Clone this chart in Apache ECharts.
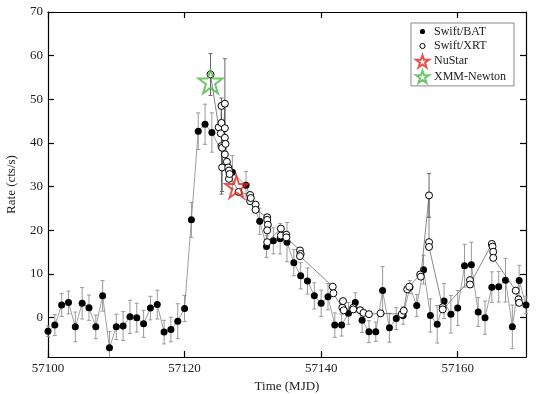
<!DOCTYPE html>
<html>
<head>
<meta charset="utf-8">
<script src="https://cdn.jsdelivr.net/npm/echarts@6/dist/echarts.min.js"></script>
<style>
  html, body { margin: 0; padding: 0; background: #fff; }
  #chartLC { width: 545px; height: 394px; }
</style>
</head>
<body>
<div id="chartLC"></div>
<script>
  // Swift/BAT daily rates
  var batTime = [57100, 57101, 57102, 57103, 57104, 57105, 57106, 57107, 57108, 57109,
    57110, 57111, 57112, 57113, 57114, 57115, 57116, 57117, 57118, 57119,
    57120, 57121, 57122, 57123, 57124, 57127, 57129, 57131, 57132, 57133,
    57134, 57135, 57136, 57137, 57138, 57139, 57140, 57141, 57142, 57143,
    57144, 57145, 57146, 57147, 57148, 57149, 57150, 57151, 57152, 57153,
    57154, 57155, 57156, 57157, 57158, 57159, 57160, 57161, 57162, 57163,
    57164, 57165, 57166, 57167, 57168, 57169, 57170];
  var batRate = [-3.1, -1.7, 2.9, 3.5, -2.1, 3.3, 2.3, -2.1, 5.0, -6.9,
    -2.1, -1.9, 0.2, 0.0, -1.4, 2.2, 3.0, -3.3, -2.7, -0.8,
    2.1, 22.4, 42.7, 44.3, 42.4, 33.3, 30.3, 22.1, 16.3, 17.6,
    18.1, 17.3, 12.6, 9.6, 8.4, 5.0, 3.3, 4.8, -1.7, -1.7,
    1.0, 3.5, -0.6, -3.2, -3.2, 6.2, -2.3, -0.2, 0.5, 7.0,
    2.8, 11.0, 0.5, -1.5, 3.8, 0.8, 2.2, 11.9, 12.1, 1.3,
    0.0, 7.0, 7.1, 8.6, -2.1, 8.5, 2.9];
  var batErr = [1.2, 2.4, 2.6, 2.6, 3.4, 3.6, 2.9, 2.7, 3.5, 3.7,
    2.9, 3.3, 3.8, 3.3, 3.1, 2.7, 3.3, 2.7, 2.8, 4.0,
    3.0, 4.0, 4.2, 4.6, 4.5, 3.8, 3.2, 3.0, 2.5, 3.0,
    3.5, 4.5, 3.0, 3.0, 3.0, 3.0, 3.0, 3.0, 2.8, 2.5,
    2.5, 2.2, 2.8, 2.5, 2.2, 5.5, 3.3, 2.5, 2.0, 1.5,
    2.5, 3.3, 3.8, 4.3, 4.0, 4.3, 4.0, 4.9, 5.2, 3.3,
    3.8, 3.5, 3.5, 5.0, 5.0, 3.5, 2.0];

  // Swift/XRT pointings (scaled rates)
  var xrtTime = [57123.8, 57125.0, 57125.3, 57125.4, 57125.4, 57125.4, 57125.5, 57125.5, 57125.9, 57125.9,
    57125.9, 57125.9, 57126.0, 57126.2, 57126.4, 57126.5, 57126.5, 57126.6, 57127.9, 57129.6,
    57129.6, 57129.7, 57130.4, 57130.4, 57132.1, 57132.1, 57132.2, 57132.1, 57132.1, 57134.1,
    57134.1, 57134.9, 57134.9, 57136.9, 57137.0, 57136.9, 57141.7, 57141.8, 57143.1, 57143.2,
    57143.3, 57144.7, 57144.7, 57145.7, 57146.2, 57147.0, 57148.7, 57151.8, 57152.1, 57152.6,
    57152.9, 57154.5, 57154.6, 57155.8, 57155.8, 57155.8, 57157.8, 57157.8, 57161.8, 57161.8,
    57165.0, 57165.1, 57165.2, 57165.2, 57168.5, 57168.9, 57169.0];
  var xrtRate = [55.7, 43.6, 42.2, 48.5, 44.6, 39.3, 38.9, 34.4, 49.0, 43.4,
    41.2, 37.4, 39.8, 35.7, 34.4, 33.7, 31.8, 32.9, 28.8, 28.1,
    26.7, 27.4, 25.9, 24.7, 23.0, 22.4, 21.3, 20.0, 17.3, 20.4,
    18.8, 19.0, 18.4, 15.4, 14.6, 14.1, 7.1, 5.6, 2.3, 3.8,
    1.7, 2.3, 1.9, 1.7, 1.1, 0.8, 1.0, 0.8, 1.6, 6.5,
    7.1, 9.9, 9.4, 28.0, 17.3, 16.2, 2.4, 1.9, 8.6, 7.6,
    16.9, 16.3, 15.1, 13.7, 6.2, 4.2, 3.4];
  var xrtErr = [4.8, 0, 0, 0, 0, 11.0, 0, 5.5, 10.3, 0,
    0, 0, 0, 0, 0, 0, 0, 0, 0, 0,
    0, 0, 0, 0, 0, 0, 0, 0, 0, 0,
    0, 0, 0, 0, 0, 0, 0, 0, 0, 0,
    0, 0, 0, 0, 0, 0, 0, 0, 0, 0,
    0, 0, 0, 5.0, 0, 0, 0, 0, 0, 0,
    0, 0, 0, 0, 0, 0, 0];

  // observation epochs
  var nustarObs = [[57127.6, 30.0]];
  var xmmObs = [[57123.8, 54.1]];

  var yTicks = [0, 10, 20, 30, 40, 50, 60, 70];
  var xTicks = [57100, 57120, 57140, 57160];
  var yMin = -9, yMax = 70;

  var starPath = 'path://M50,2 L61,36 L97,36 L68,57 L79,92 L50,71 L21,92 L32,57 L3,36 L39,36 Z';
  // small dot inside an empty 100x100 box, so the legend keeps it small
  var dotPath = 'path://M0,0 M100,100 M50,30 A20,20 0 1,1 50,70 A20,20 0 1,1 50,30 Z';
  var serif = '"Liberation Serif", "DejaVu Serif", serif';

  function zipData(t, v, e) {
    var result = [];
    for (var i = 0; i < t.length; i++) {
      result.push(e ? [t[i], v[i], e[i]] : [t[i], v[i]]);
    }
    return result;
  }

  function errBars(color) {
    return function (params, api) {
      var x = api.value(0), y = api.value(1), e = api.value(2);
      if (!e) return;
      var hi = Math.min(y + e, yMax), lo = Math.max(y - e, yMin);
      var p1 = api.coord([x, hi]);
      var p2 = api.coord([x, lo]);
      var st = { stroke: color, lineWidth: 1 };
      var kids = [{ type: 'line', shape: { x1: p1[0], y1: p1[1], x2: p2[0], y2: p2[1] }, style: st }];
      if (y + e <= yMax) kids.push({ type: 'line', shape: { x1: p1[0] - 2, y1: p1[1], x2: p1[0] + 2, y2: p1[1] }, style: st });
      if (y - e >= yMin) kids.push({ type: 'line', shape: { x1: p2[0] - 2, y1: p2[1], x2: p2[0] + 2, y2: p2[1] }, style: st });
      return { type: 'group', children: kids };
    };
  }

  var chart = echarts.init(document.getElementById('chartLC'));
  var axisLine = { show: true, onZero: false, lineStyle: { color: '#000', width: 1.2 } };
  var tickStyle = { color: '#000', width: 1.2 };

  chart.setOption({
    animation: false,
    textStyle: { fontFamily: serif },
    grid: { left: 48, right: 19, top: 12, bottom: 37, outerBoundsMode: 'none' },
    legend: {
      orient: 'vertical',
      left: 411,
      top: 23,
      itemWidth: 13,
      itemHeight: 13,
      itemGap: 1,
      padding: [2, 8, 2, 4],
      borderColor: '#888',
      borderWidth: 1,
      textStyle: { fontFamily: serif, fontSize: 12, color: '#222' },
      data: [
        { name: 'Swift/BAT', icon: dotPath, itemStyle: { color: '#000', borderWidth: 0 } },
        { name: 'Swift/XRT', icon: dotPath, itemStyle: { color: '#fff', borderColor: '#000', borderWidth: 1 } },
        { name: 'NuStar', icon: starPath },
        { name: 'XMM-Newton', icon: starPath }
      ]
    },
    xAxis: [{
      type: 'value',
      min: 57100,
      max: 57170,
      name: 'Time (MJD)',
      nameLocation: 'middle',
      nameGap: 23,
      nameTextStyle: { fontFamily: serif, fontSize: 13, color: '#222' },
      axisLine: axisLine,
      axisTick: { inside: true, length: 6, customValues: xTicks, lineStyle: tickStyle },
      axisLabel: {
        customValues: xTicks, fontFamily: serif, fontSize: 13, color: '#222', margin: 5,
        formatter: function (v) { return String(v); }
      },
      splitLine: { show: false }
    }, {
      type: 'value',
      position: 'top',
      min: 57100,
      max: 57170,
      axisLine: axisLine,
      axisTick: { inside: true, length: 6, customValues: xTicks, lineStyle: tickStyle },
      axisLabel: { show: false },
      splitLine: { show: false }
    }],
    yAxis: [{
      type: 'value',
      min: yMin,
      max: yMax,
      name: 'Rate (cts/s)',
      nameLocation: 'middle',
      nameGap: 30,
      nameTextStyle: { fontFamily: serif, fontSize: 13, color: '#222' },
      axisLine: axisLine,
      axisTick: { inside: true, length: 6, customValues: yTicks, lineStyle: tickStyle },
      axisLabel: { customValues: yTicks, fontFamily: serif, fontSize: 13, color: '#222', margin: 5 },
      splitLine: { show: false }
    }, {
      type: 'value',
      position: 'right',
      min: yMin,
      max: yMax,
      axisLine: axisLine,
      axisTick: { inside: true, length: 6, customValues: yTicks, lineStyle: tickStyle },
      axisLabel: { show: false },
      splitLine: { show: false }
    }],
    series: [
      {
        name: 'batErr',
        type: 'custom',
        renderItem: errBars('#999'),
        data: zipData(batTime, batRate, batErr),
        z: 1
      },
      {
        name: 'xrtErr',
        type: 'custom',
        renderItem: errBars('#666'),
        data: zipData(xrtTime, xrtRate, xrtErr),
        z: 1
      },
      {
        name: 'Swift/BAT',
        type: 'line',
        data: zipData(batTime, batRate),
        symbol: 'circle',
        symbolSize: 7,
        showAllSymbol: true,
        lineStyle: { color: '#888', width: 0.8 },
        itemStyle: { color: '#000' },
        z: 2
      },
      {
        name: 'Swift/XRT',
        type: 'line',
        data: zipData(xrtTime, xrtRate),
        symbol: 'circle',
        symbolSize: 7,
        showAllSymbol: true,
        lineStyle: { color: '#555', width: 0.7 },
        itemStyle: { color: '#fff', borderColor: '#000', borderWidth: 1 },
        z: 3
      },
      {
        name: 'NuStar',
        type: 'scatter',
        data: nustarObs,
        symbol: starPath,
        symbolSize: 22,
        itemStyle: { color: 'rgba(255,255,255,0)', borderColor: '#e8261f', borderWidth: 2 },
        z: 4
      },
      {
        name: 'XMM-Newton',
        type: 'scatter',
        data: xmmObs,
        symbol: starPath,
        symbolSize: 24,
        itemStyle: { color: 'rgba(255,255,255,0)', borderColor: '#4db848', borderWidth: 2 },
        z: 4
      }
    ]
  });
</script>
</body>
</html>
